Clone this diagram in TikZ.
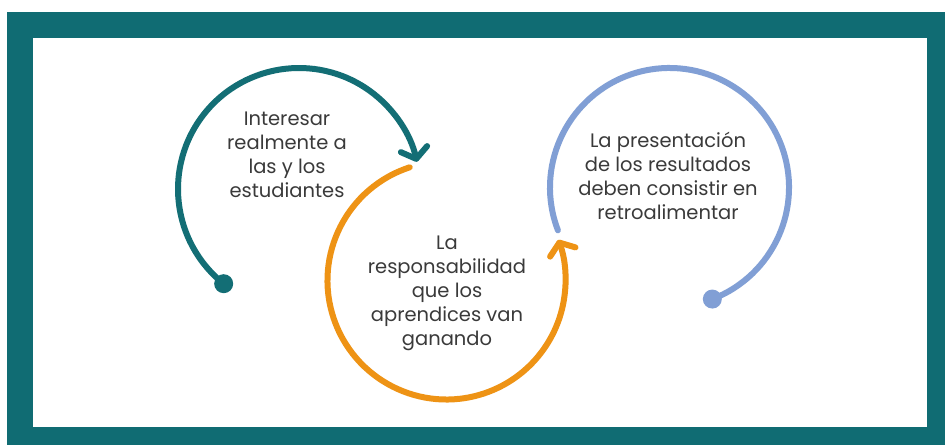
\documentclass[tikz,border=0pt]{standalone}
\usepackage{fontspec}
\setmainfont{Poppins}
\usetikzlibrary{arrows.meta}
\definecolor{frameteal}{HTML}{106C73}
\definecolor{arcteal}{HTML}{136E75}
\definecolor{arcorange}{HTML}{EE9315}
\definecolor{arcblue}{HTML}{819FD5}
\definecolor{txtgray}{HTML}{3A3A3A}

\begin{document}
\begin{tikzpicture}[x=1pt,y=1pt]
    \tikzstyle{loopline}=[line width=6pt,line cap=round]
    \tikzstyle{looptip}=[-{Straight Barb[length=10pt,width=27pt,round]}]
    \tikzstyle{loopdot}=[circle,fill,inner sep=0pt,minimum size=19pt]
    \tikzstyle{looptext}=[align=center,text=txtgray,
        font=\fontsize{19.5}{24}\selectfont]

    %% Page and frame
    \fill[white] (0,0) rectangle (945,445);
    \useasboundingbox (0,0) rectangle (945,445);
    \fill[frameteal] (7,0) rectangle (945,433);
    \fill[white] (33,18) rectangle (927,407);

    %% Centres of the three loops
    \coordinate (tcenter) at (299,256);
    \coordinate (ocenter) at (446.5,164.5);
    \coordinate (bcenter) at (669.5,257.5);

    %% First loop
    \node[loopdot,arcteal] (tstart) at ([shift={(231.5:121)}]tcenter) {};
    \draw[loopline,looptip,arcteal] (tstart.center)
        arc[start angle=231.5,end angle=13,radius=121];
    \node[looptext] (ttext) at (287,290)
        {Interesar\\realmente a\\las y los\\estudiantes};

    %% Second loop
    \coordinate (ostart) at ([shift={(108:119)}]ocenter);
    \draw[loopline,looptip,arcorange] (ostart)
        arc[start angle=108,end angle=380,radius=119];
    \node[looptext] (otext) at (447,152)
        {La\\responsabilidad\\que los\\aprendices van\\ganando};

    %% Third loop
    \coordinate (bstart) at ([shift={(201:119.5)}]bcenter);
    \node[loopdot,arcblue] (bend) at ([shift={(-69:119.5)}]bcenter) {};
    \draw[loopline,arcblue] (bstart)
        arc[start angle=201,end angle=-69,radius=119.5];
    \node[looptext] (btext) at (668,269)
        {La presentación\\de los resultados\\deben consistir en\\retroalimentar};
\end{tikzpicture}
\end{document}
